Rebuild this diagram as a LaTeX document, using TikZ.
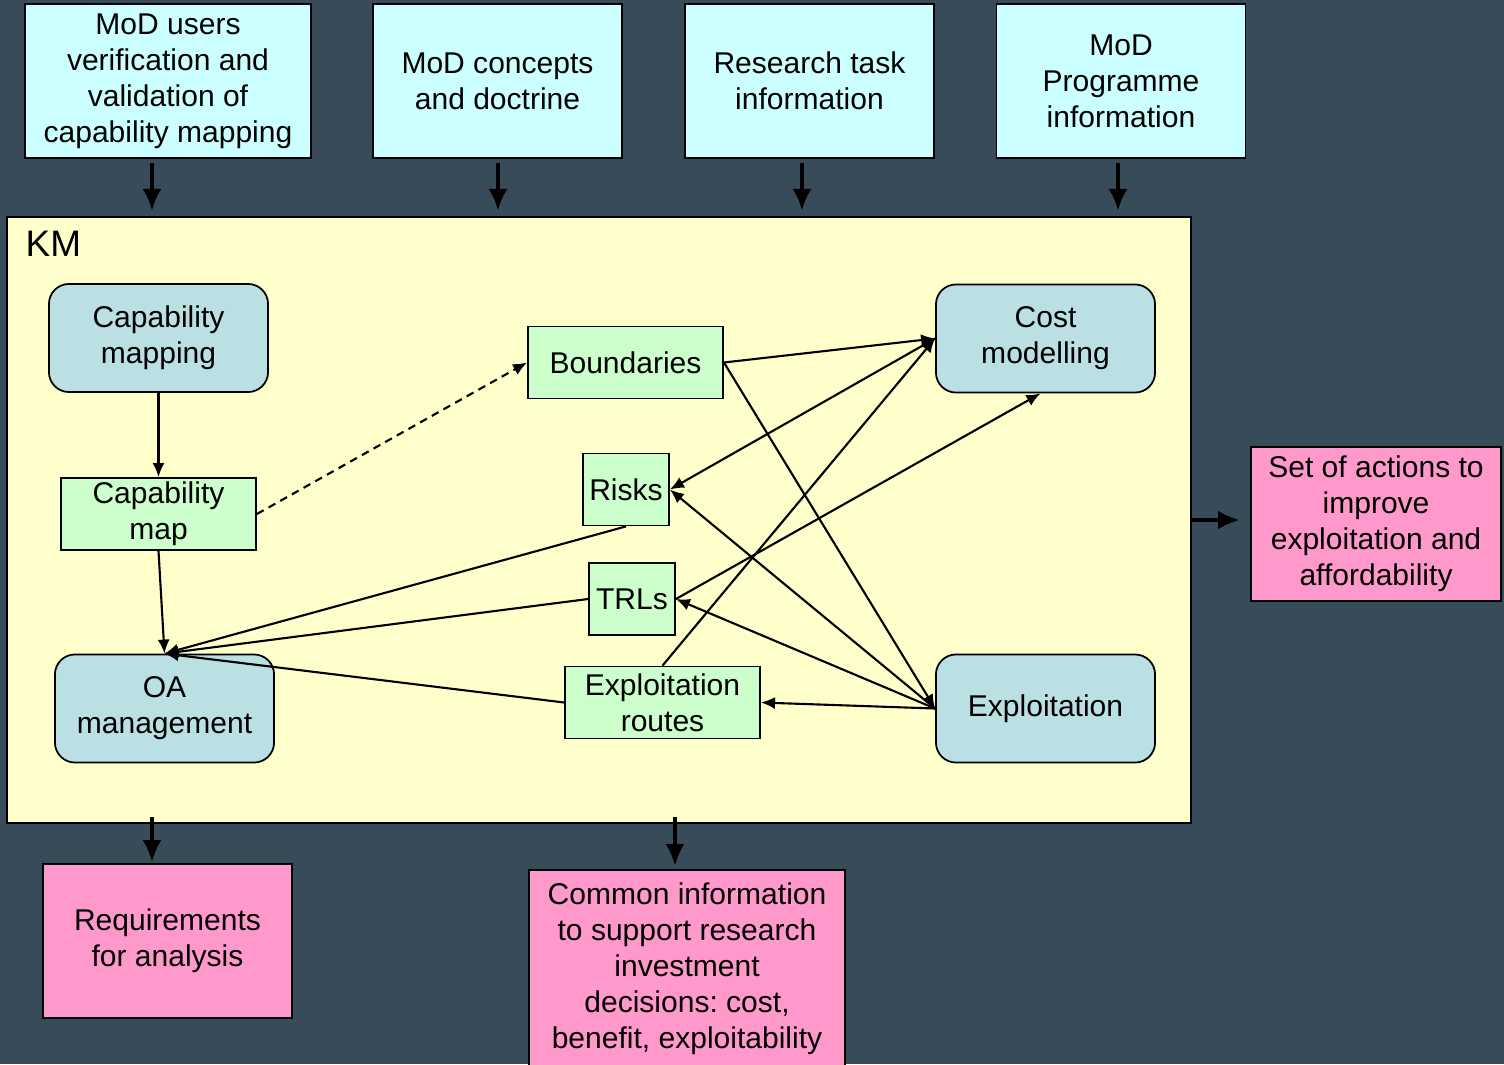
\documentclass[tikz,border=0pt]{standalone}
\usepackage{fontspec}
\setmainfont{Liberation Sans}
\usetikzlibrary{arrows.meta}
\frenchspacing
\definecolor{slate}{RGB}{56,75,88}
\definecolor{incyan}{HTML}{CCFFFF}
\definecolor{kmyellow}{HTML}{FFFFCC}
\definecolor{procblue}{HTML}{BBE0E3}
\definecolor{itemgreen}{HTML}{CCFFCC}
\definecolor{outpink}{HTML}{FF99CC}
\tikzset{
  box/.style={draw=black, line width=0.5pt, align=center, inner sep=0pt,
    font=\fontsize{8.54}{10.24}\selectfont},
  inbox/.style={box, fill=incyan, minimum width=2.49cm, minimum height=1.54cm},
  outbox/.style={box, fill=outpink, minimum width=2.49cm, minimum height=1.54cm},
  procbox/.style={box, fill=procblue, rounded corners=0.2cm, minimum width=2.19cm, minimum height=1.08cm},
  itembox/.style={box, fill=itemgreen, minimum width=1.95cm, minimum height=0.72cm},
  thinarrow/.style={-{Latex[length=1.4mm,width=1.2mm]}, line width=0.6pt},
  bigarrow/.style={-{Latex[length=2.2mm,width=1.9mm]}, line width=1.4pt}
}
\begin{document}
\begin{tikzpicture}[x=0.01cm,y=-0.01cm]
	\fill[slate] (0,0) rectangle (1504,1064);
	\useasboundingbox (0,0) rectangle (1504,1064);
	
	% inputs
	\node[inbox, minimum width=2.86cm] (users) at (168,81) {MoD users\\verification and\\validation of\\capability mapping};
	\node[inbox] (concepts) at (497.5,81) {MoD concepts\\and doctrine};
	\node[inbox] (research) at (809.5,81) {Research task\\information};
	\node[inbox] (programme) at (1121,81) {MoD\\Programme\\information};
	
	% KM
	\node[box, fill=kmyellow, minimum width=11.84cm, minimum height=6.06cm] (km) at (599,520) {};
	\node[anchor=west, inner sep=0pt, font=\fontsize{10.5}{12}\selectfont] (kmlabel) at (25,244) {KM};
	
	\node[procbox] (capmapping) at (158.5,338) {Capability\\mapping};
	\node[procbox] (oa) at (164.5,708.5) {OA\\management};
	\node[procbox] (cost) at (1045.5,338.5) {Cost\\modelling};
	\node[procbox] (exploitation) at (1045.5,708.5) {Exploitation};
	
	\node[itembox] (capmap) at (158.5,514) {Capability\\map};
	\node[itembox] (boundaries) at (625.5,362.5) {Boundaries};
	\node[itembox, minimum width=0.86cm] (risks) at (626,489.5) {Risks};
	\node[itembox, minimum width=0.86cm] (trls) at (632,599) {TRLs};
	\node[itembox] (routes) at (662.5,702.5) {Exploitation\\routes};
	
	% outputs
	\node[outbox, minimum width=2.5cm] (actions) at (1376,524) {Set of actions to\\improve\\exploitation and\\affordability};
	\node[outbox] (requirements) at (167.5,941) {Requirements\\for analysis};
	\node[outbox, minimum width=3.16cm, minimum height=1.98cm] (common) at (687,969) {Common information\\to support research\\investment\\decisions: cost,\\benefit, exploitability};
	
	% big arrows
	\draw[bigarrow] ([xshift=-0.16cm,yshift=-0.04cm]users.south) -- ([xshift=-0.16cm,yshift=-0.52cm]users.south);
	\draw[bigarrow] ([xshift=0.005cm,yshift=-0.04cm]concepts.south) -- ([xshift=0.005cm,yshift=-0.52cm]concepts.south);
	\draw[bigarrow] ([xshift=-0.075cm,yshift=-0.04cm]research.south) -- ([xshift=-0.075cm,yshift=-0.52cm]research.south);
	\draw[bigarrow] ([xshift=-0.03cm,yshift=-0.04cm]programme.south) -- ([xshift=-0.03cm,yshift=-0.52cm]programme.south);
	\draw[bigarrow] ([xshift=-0.155cm,yshift=0.46cm]requirements.north) -- ([xshift=-0.155cm,yshift=0.01cm]requirements.north);
	\draw[bigarrow] ([xshift=-0.12cm,yshift=0.52cm]common.north) -- ([xshift=-0.12cm,yshift=0.03cm]common.north);
	\draw[bigarrow] ([xshift=-0.6cm,yshift=0.04cm]actions.west) -- ([xshift=-0.1cm,yshift=0.04cm]actions.west);
	
	% links inside KM
	\draw[thinarrow] (capmapping.south) -- (capmap.north);
	\draw[thinarrow, dash pattern=on 2.2pt off 1.6pt] (capmap.east) -- (boundaries.west);
	\draw[thinarrow] (capmap.south) -- (oa.north);
	\draw[thinarrow] (risks.south) -- (oa.north);
	\draw[thinarrow] (trls.west) -- (oa.north);
	\draw[thinarrow] (routes.west) -- (oa.north);
	\draw[thinarrow] (boundaries.east) -- (cost.west);
	\draw[thinarrow] (cost.west) -- (risks.east);
	\draw[thinarrow] (routes.north) -- (cost.west);
	\draw[thinarrow, {Latex[length=1.4mm,width=1.2mm]}-] ([xshift=-0.05cm]cost.south) -- (trls.east);
	\draw[thinarrow] (boundaries.east) -- (exploitation.west);
	\draw[thinarrow] (exploitation.west) -- (risks.east);
	\draw[thinarrow] (exploitation.west) -- (trls.east);
	\draw[thinarrow] (exploitation.west) -- (routes.east);
\end{tikzpicture}
\end{document}
